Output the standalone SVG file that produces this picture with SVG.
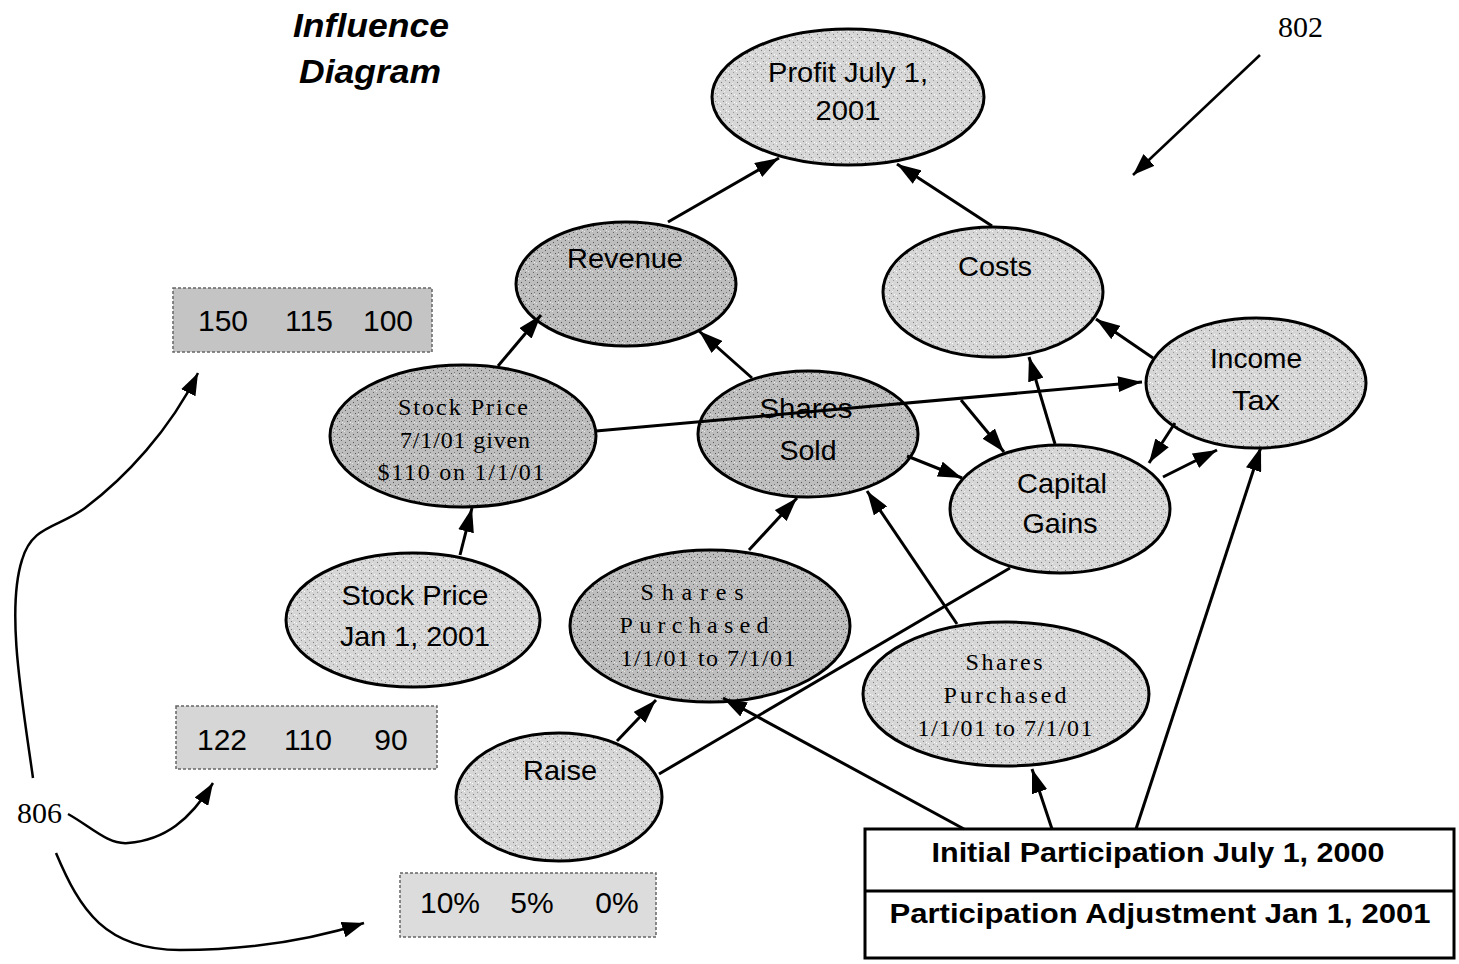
<svg xmlns="http://www.w3.org/2000/svg" width="1459" height="964" viewBox="0 0 1459 964">
<style>
.bg{fill:#ffffff}
.node{stroke:#000;stroke-width:3}
.lt{fill:url(#stipL)}
.dk{fill:url(#stipD)}
.sans{font-family:"Liberation Sans",Arial,sans-serif;font-size:28px;fill:#000;text-anchor:middle}
.vnum{font-family:"Liberation Sans",Arial,sans-serif;font-size:30px;fill:#000;text-anchor:middle}
.serif{font-family:"Liberation Serif","Times New Roman",serif;font-size:24px;fill:#000;text-anchor:middle}
.num{font-family:"Liberation Serif","Times New Roman",serif;font-size:30px;fill:#000}
.title{font-family:"Liberation Sans",Arial,sans-serif;font-size:34px;font-weight:bold;font-style:italic;fill:#000;text-anchor:middle}
.val{stroke:#666;stroke-width:1.5;stroke-dasharray:3 2}
.bold{font-family:"Liberation Sans",Arial,sans-serif;font-size:27px;font-weight:bold;fill:#000;text-anchor:middle}
.conn line,.conn path{stroke:#000;stroke-width:3;fill:none}
.call path,.call line{stroke:#000;stroke-width:2.5;fill:none}
</style>
<defs>
<pattern id="stipL" width="8" height="8" patternUnits="userSpaceOnUse">
<rect width="8" height="8" fill="#d6d6d6"/>
<rect x="1" y="2" width="1" height="1" fill="#7a7a7a"/>
<rect x="5" y="0" width="1" height="1" fill="#9a9a9a"/>
<rect x="3" y="5" width="1" height="1" fill="#808080"/>
<rect x="6" y="6" width="1" height="1" fill="#ffffff"/>
<rect x="0" y="7" width="1" height="1" fill="#ffffff"/>
<rect x="4" y="3" width="1" height="1" fill="#f0f0f0"/>
</pattern>
<pattern id="stipD" width="8" height="8" patternUnits="userSpaceOnUse">
<rect width="8" height="8" fill="#bdbdbd"/>
<rect x="1" y="2" width="1" height="1" fill="#555"/>
<rect x="5" y="0" width="1" height="1" fill="#666"/>
<rect x="3" y="5" width="1" height="1" fill="#555"/>
<rect x="6" y="4" width="1" height="1" fill="#777"/>
<rect x="6" y="6" width="1" height="1" fill="#eeeeee"/>
<rect x="0" y="7" width="1" height="1" fill="#e8e8e8"/>
</pattern>
<marker id="ah" markerUnits="userSpaceOnUse" markerWidth="24" markerHeight="16" refX="24" refY="8" orient="auto">
<path d="M0,0 L24,8 L0,16 z" fill="#000"/>
</marker>
<marker id="ahs" markerUnits="userSpaceOnUse" markerWidth="22" markerHeight="16" refX="22" refY="8" orient="auto">
<path d="M0,0 L22,8 L0,16 z" fill="#000"/>
</marker>
</defs>
<rect class="bg" x="0" y="0" width="1459" height="964"/>

<g id="title">
<text class="title" x="371" y="37" textLength="156" lengthAdjust="spacingAndGlyphs">Influence</text>
<text class="title" x="370" y="83" textLength="142" lengthAdjust="spacingAndGlyphs">Diagram</text>
</g>

<g id="label-802"><text class="num" x="1278" y="37">802</text></g>
<g id="label-806"><text class="num" x="17" y="823">806</text></g>

<g id="values-stock">
<rect class="val" x="173" y="288" width="259" height="64" fill="#c4c4c4"/>
<text class="vnum" x="223" y="331">150</text>
<text class="vnum" x="309" y="331">115</text>
<text class="vnum" x="388" y="331">100</text>
</g>
<g id="values-jan">
<rect class="val" x="176" y="706" width="261" height="63" fill="#d6d6d6"/>
<text class="vnum" x="222" y="750">122</text>
<text class="vnum" x="308" y="750">110</text>
<text class="vnum" x="391" y="750">90</text>
</g>
<g id="values-raise">
<rect class="val" x="400" y="873" width="256" height="64" fill="#dcdcdc"/>
<text class="vnum" x="450" y="913">10%</text>
<text class="vnum" x="532" y="913">5%</text>
<text class="vnum" x="617" y="913">0%</text>
</g>

<g id="node-profit">
<ellipse class="node lt" cx="848" cy="97" rx="136" ry="68"/>
<text class="sans" x="848" y="82" textLength="160" lengthAdjust="spacingAndGlyphs">Profit July 1,</text>
<text class="sans" x="848" y="120" textLength="65" lengthAdjust="spacingAndGlyphs">2001</text>
</g>
<g id="node-revenue">
<ellipse class="node dk" cx="626" cy="284" rx="110" ry="62"/>
<text class="sans" x="625" y="268" textLength="116" lengthAdjust="spacingAndGlyphs">Revenue</text>
</g>
<g id="node-costs">
<ellipse class="node lt" cx="993" cy="292" rx="110" ry="65"/>
<text class="sans" x="995" y="276" textLength="74" lengthAdjust="spacingAndGlyphs">Costs</text>
</g>
<g id="node-income-tax">
<ellipse class="node lt" cx="1256" cy="383" rx="110" ry="65"/>
<text class="sans" x="1256" y="368" textLength="92" lengthAdjust="spacingAndGlyphs">Income</text>
<text class="sans" x="1256" y="410" textLength="48" lengthAdjust="spacingAndGlyphs">Tax</text>
</g>
<g id="node-capital-gains">
<ellipse class="node lt" cx="1060" cy="509" rx="110" ry="64"/>
<text class="sans" x="1062" y="493" textLength="90" lengthAdjust="spacingAndGlyphs">Capital</text>
<text class="sans" x="1060" y="533" textLength="75" lengthAdjust="spacingAndGlyphs">Gains</text>
</g>
<g id="node-shares-sold">
<ellipse class="node dk" cx="808" cy="434" rx="110" ry="63"/>
<text class="sans" x="806" y="418" textLength="93" lengthAdjust="spacingAndGlyphs">Shares</text>
<text class="sans" x="808" y="460" textLength="57" lengthAdjust="spacingAndGlyphs">Sold</text>
</g>
<g id="node-stock-price-701">
<ellipse class="node dk" cx="463" cy="436" rx="133" ry="71"/>
<text class="serif" x="463" y="415" textLength="130" lengthAdjust="spacing">Stock Price</text>
<text class="serif" x="465" y="448" textLength="130" lengthAdjust="spacing">7/1/01 given</text>
<text class="serif" x="461" y="480" textLength="167" lengthAdjust="spacing">$110 on 1/1/01</text>
</g>
<g id="node-stock-price-jan">
<ellipse class="node lt" cx="413" cy="620" rx="127" ry="67"/>
<text class="sans" x="415" y="605" textLength="147" lengthAdjust="spacingAndGlyphs">Stock Price</text>
<text class="sans" x="415" y="646" textLength="150" lengthAdjust="spacingAndGlyphs">Jan 1, 2001</text>
</g>
<g id="node-shares-purchased-1">
<ellipse class="node dk" cx="710" cy="626" rx="140" ry="76"/>
<text class="serif" x="692" y="600" textLength="103" lengthAdjust="spacing">Shares</text>
<text class="serif" x="694" y="633" textLength="149" lengthAdjust="spacing">Purchased</text>
<text class="serif" x="708" y="666" textLength="175" lengthAdjust="spacing">1/1/01 to 7/1/01</text>
</g>
<g id="node-shares-purchased-2">
<ellipse class="node lt" cx="1006" cy="694" rx="143" ry="72"/>
<text class="serif" x="1004" y="670" textLength="77" lengthAdjust="spacing">Shares</text>
<text class="serif" x="1005" y="703" textLength="123" lengthAdjust="spacing">Purchased</text>
<text class="serif" x="1005" y="736" textLength="175" lengthAdjust="spacing">1/1/01 to 7/1/01</text>
</g>
<g id="node-raise">
<ellipse class="node lt" cx="559" cy="797" rx="103" ry="64"/>
<text class="sans" x="560" y="780" textLength="74" lengthAdjust="spacingAndGlyphs">Raise</text>
</g>
<g id="node-participation">
<rect x="865" y="829" width="589" height="129" fill="#ffffff" stroke="#000" stroke-width="3"/>
<line x1="865" y1="891" x2="1454" y2="891" stroke="#000" stroke-width="3"/>
<text class="bold" x="1158" y="862" textLength="453" lengthAdjust="spacingAndGlyphs">Initial Participation July 1, 2000</text>
<text class="bold" x="1160" y="923" textLength="541" lengthAdjust="spacingAndGlyphs">Participation Adjustment Jan 1, 2001</text>
</g>

<g id="connectors" class="conn">
<line x1="668" y1="222" x2="779" y2="158" marker-end="url(#ah)"/>
<line x1="992" y1="226" x2="897" y2="164" marker-end="url(#ah)"/>
<line x1="498" y1="366" x2="541" y2="315" marker-end="url(#ah)"/>
<line x1="752" y1="378" x2="699" y2="331" marker-end="url(#ah)"/>
<line x1="1153" y1="358" x2="1096" y2="319" marker-end="url(#ah)"/>
<line x1="1055" y1="444" x2="1029" y2="357" marker-end="url(#ah)"/>
<line x1="596" y1="431" x2="1142" y2="382" marker-end="url(#ah)"/>
<line x1="961" y1="400" x2="1004" y2="452" marker-end="url(#ah)"/>
<line x1="907" y1="456" x2="962" y2="478" marker-end="url(#ah)"/>
<line x1="1175" y1="423" x2="1149" y2="463" marker-end="url(#ah)"/>
<line x1="1163" y1="477" x2="1217" y2="450" marker-end="url(#ah)"/>
<line x1="460" y1="555" x2="472" y2="508" marker-end="url(#ah)"/>
<line x1="749" y1="550" x2="797" y2="498" marker-end="url(#ah)"/>
<line x1="957" y1="624" x2="867" y2="491" marker-end="url(#ah)"/>
<line x1="617" y1="741" x2="656" y2="700" marker-end="url(#ah)"/>
<line x1="659" y1="774" x2="1010" y2="568"/>
<line x1="964" y1="829" x2="723" y2="698" marker-end="url(#ah)"/>
<line x1="1052" y1="829" x2="1032" y2="769" marker-end="url(#ah)"/>
<line x1="1136" y1="829" x2="1261" y2="447" marker-end="url(#ah)"/>
</g>

<g id="callouts" class="call">
<line x1="1260" y1="55" x2="1133" y2="175" marker-end="url(#ahs)"/>
<path d="M33,778 C22,700 6,610 22,560 C32,525 58,528 85,508 C125,478 170,430 198,373" marker-end="url(#ahs)"/>
<path d="M68,814 C90,826 108,845 128,843 C165,840 190,820 213,783" marker-end="url(#ahs)"/>
<path d="M56,853 C80,910 105,950 180,950 C260,950 320,937 364,923" marker-end="url(#ahs)"/>
</g>
</svg>
